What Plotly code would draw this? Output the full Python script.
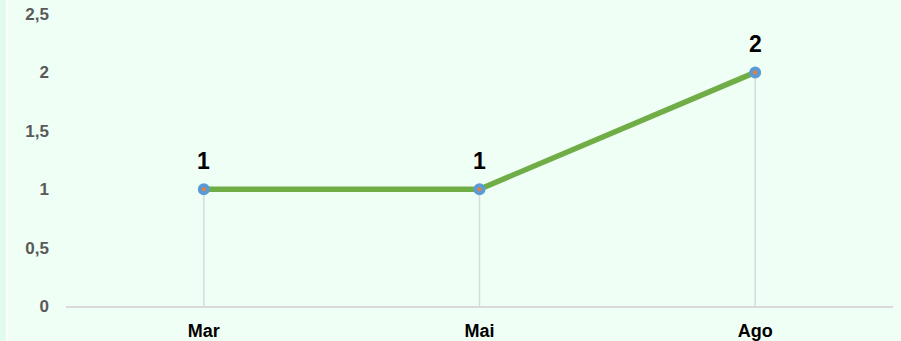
import plotly.graph_objects as go

# Monthly counts
months = ["Mar", "Mai", "Ago"]
counts = [1, 1, 2]
y_ticks = [0, 0.5, 1, 1.5, 2, 2.5]
y_tick_labels = ["0", "0,5", "1", "1,5", "2", "2,5"]

FONT = "Liberation Sans, Arial, sans-serif"

fig = go.Figure()

# Drop lines from each point down to the axis
fig.add_trace(go.Scatter(
    x=months, y=counts, mode="markers",
    marker=dict(size=0.1, color="rgba(0,0,0,0)"),
    error_y=dict(type="data", symmetric=False, array=[0] * len(counts),
                 arrayminus=counts, width=0, thickness=1.5, color="#d6dcdc"),
    hoverinfo="skip", showlegend=False,
))

# Main line with markers
fig.add_trace(go.Scatter(
    x=months, y=counts, mode="lines+markers",
    line=dict(color="#70ad47", width=5.5),
    marker=dict(size=8, color="#ed7d31", line=dict(color="#5b9bd5", width=4)),
    showlegend=False,
))

# Value labels above each point
for m, v in zip(months, counts):
    fig.add_annotation(
        x=m, y=v, text=f"<b>{v}</b>", showarrow=False,
        yanchor="bottom", yshift=13,
        font=dict(family=FONT, size=23, color="#000000"),
    )

# Left edge stripe
fig.add_shape(type="rect", xref="x domain", yref="paper",
              x0=-66 / 827, x1=-60 / 827, y0=-0.2, y1=1.2,
              fillcolor="#dffcef", line=dict(width=0), layer="below")
fig.add_shape(type="rect", xref="x domain", yref="paper",
              x0=-60 / 827, x1=-58 / 827, y0=-0.2, y1=1.2,
              fillcolor="#ffffff", line=dict(width=0), layer="below")

fig.update_layout(
    width=901, height=341,
    margin=dict(l=66, r=8, t=14, b=35),
    paper_bgcolor="#effff5", plot_bgcolor="#effff5",
    font=dict(family=FONT),
    xaxis=dict(
        type="category", range=[-0.5, 2.5], automargin=False,
        showgrid=False, zeroline=False,
        showline=True, linecolor="#d9d9d9", linewidth=1.5,
        ticks="", tickfont=dict(size=18, color="#000000", weight="bold"),
        ticklabelstandoff=8,
    ),
    yaxis=dict(
        range=[0, 2.5], tickvals=y_ticks, ticktext=y_tick_labels, automargin=False,
        showgrid=False, zeroline=False, showline=False,
        ticks="", tickfont=dict(size=17, color="#595959", weight="bold"),
        ticklabelstandoff=16,
    ),
)

fig.write_html("out.html")
